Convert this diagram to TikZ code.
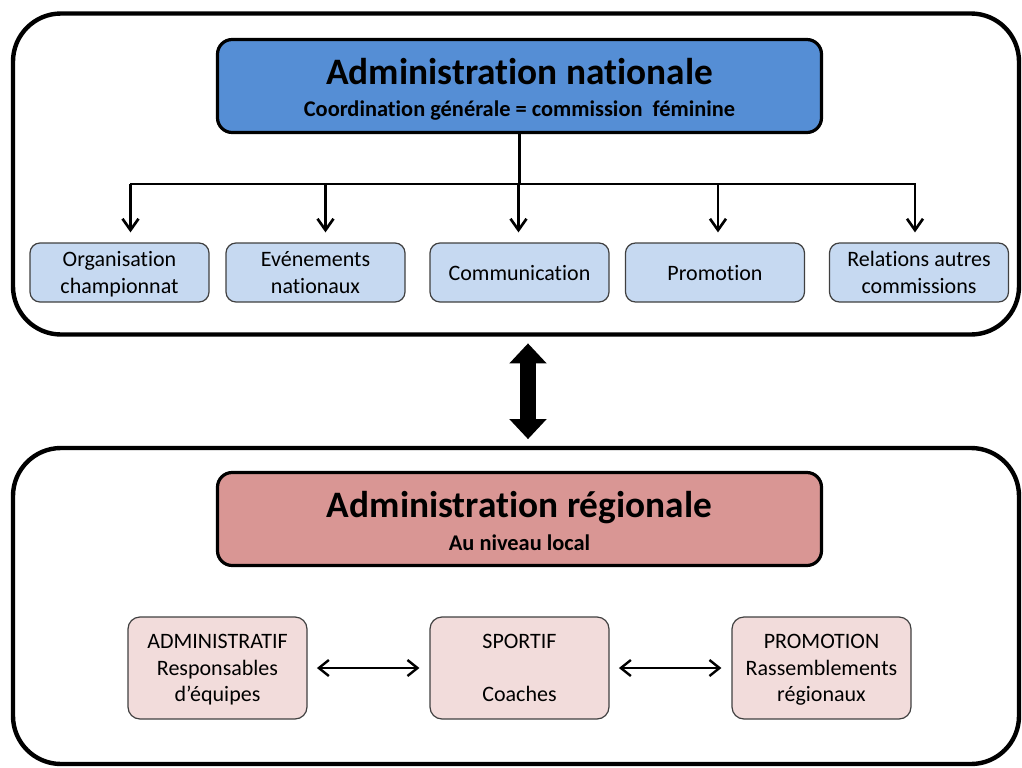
\documentclass[tikz,border=0pt]{standalone}
\usepackage{fontspec}
\setmainfont{Carlito}[Ligatures={NoCommon,NoContextual}]
\usetikzlibrary{arrows.meta}
\definecolor{natblue}{HTML}{558ED5}
\definecolor{lightblue}{HTML}{C6D9F1}
\definecolor{regred}{HTML}{D99694}
\definecolor{lightpink}{HTML}{F2DCDB}
\definecolor{boxedge}{HTML}{404040}
\begin{document}
\begin{tikzpicture}[x=0.75pt,y=-0.75pt,
  outerbox/.style={draw=black, line width=3.3pt, rounded corners=36pt, minimum width=1006*0.75pt, inner sep=0pt},
  headbox/.style={draw=black, line width=2.4pt, rounded corners=11pt, minimum width=604*0.75pt, minimum height=93*0.75pt, inner sep=0pt},
  subbox/.style={draw=boxedge, line width=0.9pt, rounded corners=7.5pt, fill=lightblue, minimum width=179*0.75pt, minimum height=59*0.75pt, align=center, font=\fontsize{16.5}{20}\selectfont, text depth=0pt, inner sep=0pt},
  locbox/.style={draw=boxedge, line width=0.9pt, rounded corners=9pt, fill=lightpink, minimum width=179*0.75pt, minimum height=102*0.75pt, align=center, font=\fontsize{16.5}{20}\selectfont, text depth=0pt, inner sep=0pt},
  titletext/.style={anchor=base, font=\fontsize{28}{30}\selectfont\bfseries, inner sep=0pt},
  subtext/.style={anchor=base, font=\fontsize{16.8}{20}\selectfont\bfseries, inner sep=0pt},
  conn/.style={line width=2pt},
  arr/.style={line width=2pt, -{Straight Barb[length=8.5pt,width=12pt,line width=2pt]}},
  harr/.style={line width=1.8pt, {Straight Barb[length=7.5pt,width=12pt,line width=1.8pt]}-{Straight Barb[length=7.5pt,width=12pt,line width=1.8pt]}},
  bigarr/.style={line width=12pt, {Triangle[length=15pt,width=27pt]}-{Triangle[length=15pt,width=27pt]}}
]
\useasboundingbox (0,0) rectangle (1022,768);

% outer frames
\node[outerbox, minimum height=321*0.75pt] (top) at (516,174) {};
\node[outerbox, minimum height=316*0.75pt] (bot) at (516,606) {};

% national head
\node[headbox, fill=natblue] (nat) at (519.5,86) {};
\node[titletext] (natt) at (519.5,84) {Administration nationale};
\node[subtext] (nats) at (519.5,116) {Coordination générale = commission \ féminine};

% national sub-boxes
\node[subbox] (o1) at (119.5,272.5) {Organisation\\championnat};
\node[subbox] (o2) at (315.5,272.5) {Evénements\\nationaux};
\node[subbox] (o3) at (519.5,272.5) {Communication};
\node[subbox] (o4) at (715,272.5) {Promotion};
\node[subbox] (o5) at (919,272.5) {Relations autres\\commissions};

\coordinate (busL) at (131,184);
\coordinate (busR) at (915,184);
\draw[conn] (nat.south) -- (nat.south |- busL);
\draw[conn, line cap=rect] (busL) -- (busR);
\draw[arr, shorten >=7.5pt] ([xshift=11*0.75pt]o1.north |- busL) -- ([xshift=11*0.75pt]o1.north);
\draw[arr, shorten >=7.5pt] ([xshift=10*0.75pt]o2.north |- busL) -- ([xshift=10*0.75pt]o2.north);
\draw[arr, shorten >=7.5pt] ([xshift=-1*0.75pt]o3.north |- busL) -- ([xshift=-1*0.75pt]o3.north);
\draw[arr, shorten >=7.5pt] ([xshift=3*0.75pt]o4.north |- busL) -- ([xshift=3*0.75pt]o4.north);
\draw[arr, shorten >=7.5pt] ([xshift=-4*0.75pt]o5.north |- busL) -- ([xshift=-4*0.75pt]o5.north);

% big double arrow
\draw[bigarr, shorten <=5pt, shorten >=5pt] ([xshift=12*0.75pt]top.south) -- ([xshift=12*0.75pt]bot.north);

% regional head
\node[headbox, fill=regred] (reg) at (519.5,519) {};
\node[titletext] (regt) at (519.5,517) {Administration régionale};
\node[subtext] (regs) at (519.5,550) {Au niveau local};

% regional sub-boxes
\node[locbox] (r1) at (217.5,668) {ADMINISTRATIF\\Responsables\\d’équipes};
\node[locbox] (r2) at (519.5,668) {SPORTIF\\~\\Coaches};
\node[locbox] (r3) at (821.5,668) {PROMOTION\\Rassemblements\\régionaux};

\draw[harr, shorten <=7pt, shorten >=7.5pt] (r1.east) -- (r2.west);
\draw[harr, shorten <=7pt, shorten >=7.5pt] (r2.east) -- (r3.west);
\end{tikzpicture}
\end{document}
